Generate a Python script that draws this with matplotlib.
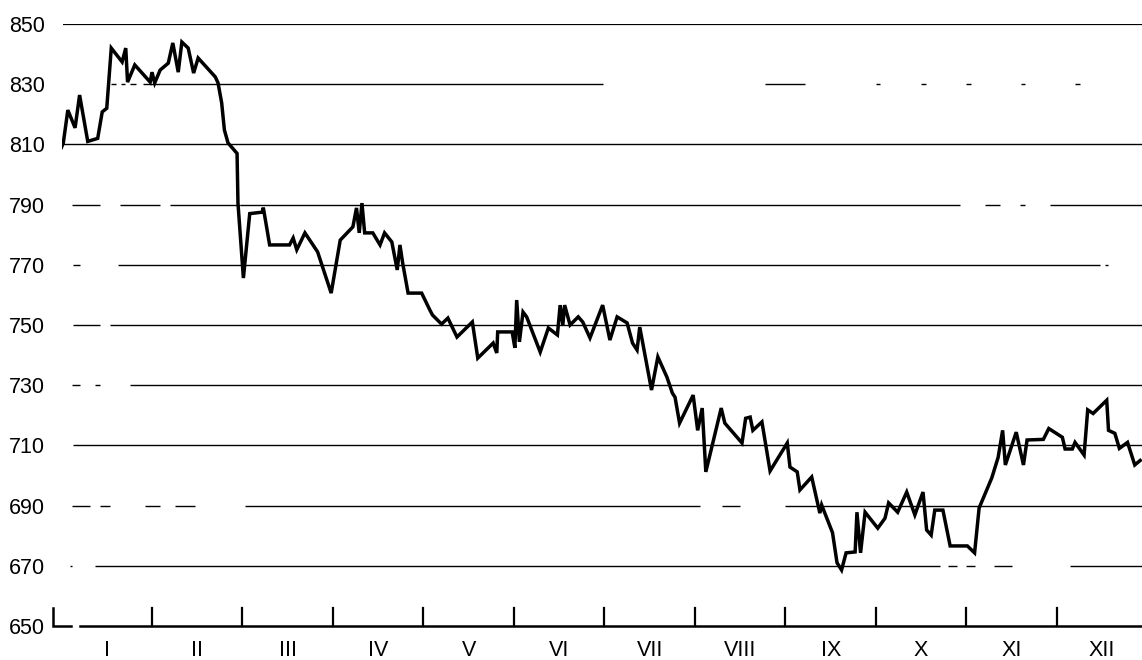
import numpy as np
import matplotlib.pyplot as plt

# time in months from 1 January, value of the index
t = [0.00, 0.02, 0.07, 0.15, 0.20, 0.29, 0.40, 0.45, 0.50, 0.55, 0.67, 0.71,
     0.73, 0.81, 0.98, 1.00, 1.03, 1.09, 1.18, 1.23, 1.29, 1.33, 1.40, 1.46,
     1.51, 1.70, 1.73, 1.77, 1.80, 1.84, 1.94, 1.95, 2.01, 2.08, 2.22, 2.23,
     2.30, 2.52, 2.56, 2.60, 2.69, 2.83, 2.98, 3.08, 3.22, 3.26, 3.29, 3.32,
     3.35, 3.44, 3.52, 3.57, 3.65, 3.71, 3.74, 3.77, 3.83, 3.98, 4.07, 4.10,
     4.20, 4.27, 4.37, 4.54, 4.60, 4.77, 4.81, 4.82, 4.98, 5.01, 5.03, 5.06,
     5.10, 5.14, 5.29, 5.38, 5.48, 5.51, 5.54, 5.56, 5.62, 5.71, 5.76, 5.84,
     5.98, 6.06, 6.14, 6.25, 6.31, 6.36, 6.39, 6.52, 6.59, 6.69, 6.75, 6.78,
     6.83, 6.98, 7.03, 7.08, 7.12, 7.29, 7.33, 7.52, 7.56, 7.61, 7.64, 7.74,
     7.83, 8.02, 8.05, 8.13, 8.16, 8.29, 8.38, 8.40, 8.52, 8.57, 8.62, 8.67,
     8.77, 8.79, 8.83, 8.88, 9.02, 9.10, 9.14, 9.24, 9.34, 9.43, 9.52, 9.56,
     9.61, 9.65, 9.74, 9.82, 10.01, 10.09, 10.14, 10.28, 10.35, 10.40, 10.43,
     10.55, 10.63, 10.67, 10.85, 10.91, 11.06, 11.09, 11.17, 11.20, 11.30,
     11.34, 11.40, 11.55, 11.57, 11.64, 11.69, 11.78, 11.86, 11.92]

values = [809, 810.5, 821.4, 815.5, 826.4, 811, 812, 820.8, 822, 842, 837.4, 842,
          830.7, 836.4, 830.7, 834, 830.4, 834.7, 837, 843.7, 834, 844, 842, 833.7,
          838.7, 832.4, 830.4, 823.8, 814.8, 810.5, 807, 790.5, 765.6, 787, 787.5, 789,
          776.6, 776.6, 778.9, 775, 780.6, 774.3, 760.6, 778.2, 782.6, 788.9, 780.6, 790.5,
          780.6, 780.6, 776.6, 780.6, 777.6, 768.3, 776.6, 770.6, 760.6, 760.6, 755, 753.3,
          750.3, 752.3, 746, 751, 739, 744, 740.7, 747.7, 747.7, 742.4, 758.3, 744.4,
          754.3, 752.7, 741, 749, 746.7, 756.6, 750, 756.6, 750, 752.7, 751, 745.7,
          756.6, 745, 752.7, 750.7, 744, 741.7, 749.3, 728.4, 739.4, 732.7, 727.4, 726,
          717.4, 726.7, 715, 722.4, 701.2, 722.4, 717.4, 710.8, 719, 719.4, 715, 717.8,
          701.5, 710.8, 702.8, 701.2, 695.2, 699.5, 687.5, 690.2, 681, 671, 668.6, 674.3,
          674.6, 687.8, 674.3, 687.8, 682.5, 685.8, 690.9, 687.8, 694.5, 686.9, 694.5, 681.9,
          680.2, 688.5, 688.5, 676.6, 676.6, 674.3, 689.2, 699.2, 706, 715, 703.5,
          714.4, 703.5, 711.8, 712, 715.6, 712.7, 708.8, 708.8, 711, 706.8,
          721.8, 720.6, 725, 715, 714, 709, 711, 703.5, 705]

months = ['I', 'II', 'III', 'IV', 'V', 'VI', 'VII', 'VIII', 'IX', 'X', 'XI', 'XII']
levels = [650, 670, 690, 710, 730, 750, 770, 790, 810, 830, 850]

# broken grid lines, like the scanned original (start, end in months)
grid_pieces = {
    850: [(0.02, 11.94)],
    830: [(0.55, 0.60), (0.66, 0.70), (0.76, 0.82), (0.90, 5.98), (7.77, 8.22),
          (9.0, 9.05), (9.5, 9.55), (10.0, 10.05), (10.6, 10.65), (11.2, 11.25)],
    810: [(0.02, 11.94)],
    790: [(0.12, 0.43), (0.65, 1.09), (1.20, 1.97), (1.97, 9.93), (10.20, 10.37),
          (10.59, 10.65), (10.92, 11.94)],
    770: [(0.13, 0.20), (0.62, 11.48), (11.53, 11.56)],
    750: [(0.13, 0.43), (0.54, 11.94)],
    730: [(0.12, 0.20), (0.37, 0.43), (0.76, 11.94)],
    710: [(0.13, 11.94)],
    690: [(0.12, 0.31), (0.43, 0.54), (0.92, 1.09), (1.25, 1.48), (2.03, 7.06),
          (7.3, 7.5), (8.0, 11.94)],
    670: [(0.09, 0.12), (0.37, 9.71), (9.8, 9.9), (10.0, 10.1), (10.3, 10.5), (11.14, 11.94)],
}

plt.rcParams['font.family'] = ['Liberation Sans', 'DejaVu Sans']

fig = plt.figure(figsize=(11.42, 6.60), dpi=100)
ax = fig.add_axes([61.5 / 1142, 34 / 660, 1080.5 / 1142, 602 / 660])

for lev, pieces in grid_pieces.items():
    for a, b in pieces:
        ax.plot([a, b], [lev, lev], color='black', lw=1.6 if lev == 850 else 1.0,
                solid_capstyle='butt', zorder=1)

ax.plot(t, values, color='black', lw=2.5, solid_joinstyle='miter', zorder=3)

# bottom axis line and the small corner at 650
ax.plot([0.20, 11.94], [650, 650], color='black', lw=1.8, clip_on=False, zorder=2)
ax.plot([-0.094, -0.094, 0.10], [656, 650, 650], color='black', lw=1.8,
        clip_on=False, solid_joinstyle='miter', zorder=2)
for k in range(1, 12):
    ax.plot([k, k], [650, 656], color='black', lw=1.6, clip_on=False, zorder=2)

ax.set_xlim(0, 11.94)
ax.set_ylim(650, 850)
for s in ax.spines.values():
    s.set_visible(False)

ax.set_yticks(levels)
ax.set_yticklabels([str(v) for v in levels])
ax.set_xticks(np.arange(12) + 0.5)
ax.set_xticklabels(months)
ax.tick_params(axis='both', length=0, labelsize=15.5)
ax.tick_params(axis='y', pad=12)
ax.tick_params(axis='x', pad=10)

fig.savefig('out.png', dpi=100)
